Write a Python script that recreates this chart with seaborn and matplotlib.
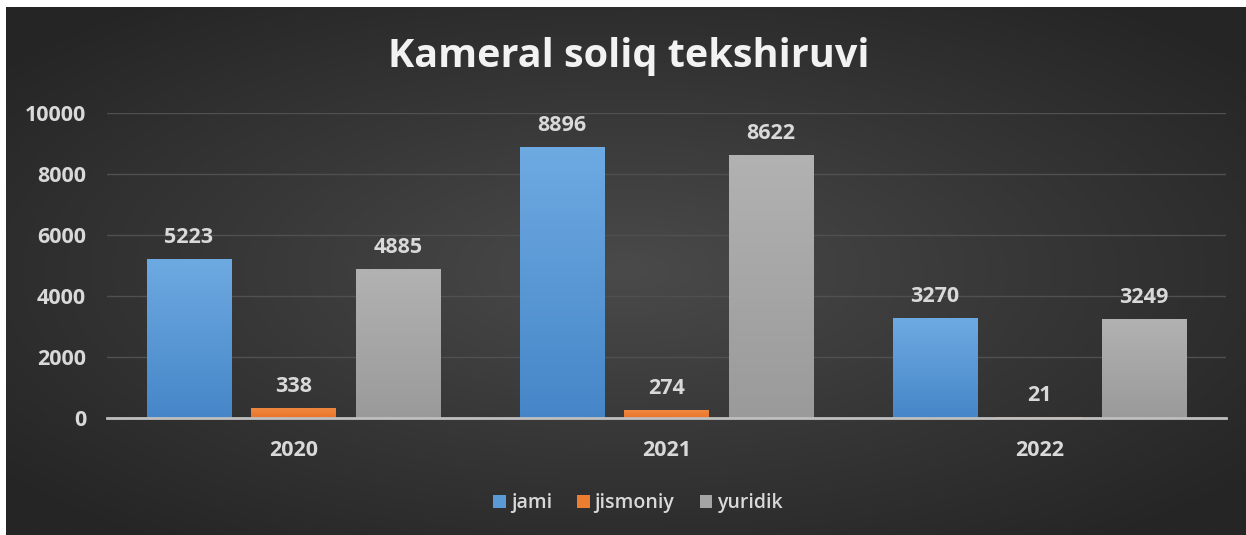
import numpy as np
import pandas as pd
import matplotlib
matplotlib.use("Agg")
import matplotlib.pyplot as plt
import seaborn as sns
from matplotlib.colors import LinearSegmentedColormap
from matplotlib.patches import Patch

years = ["2020", "2021", "2022"]
series = ["jami", "jismoniy", "yuridik"]
jami = [5223, 8896, 3270]
jismoniy = [338, 274, 21]
yuridik = [4885, 8622, 3249]
title = "Kameral soliq tekshiruvi"
yticks = [0, 2000, 4000, 6000, 8000, 10000]

colors = {"jami": "#5b9bd5", "jismoniy": "#ed7d31", "yuridik": "#a5a5a5"}
grad = {"jami": ("#6eaae2", "#4686c8"), "jismoniy": ("#f08a40", "#e8742a"),
        "yuridik": ("#b2b2b2", "#9a9a9a")}

df = pd.DataFrame({
    "year": years * 3,
    "series": [s for s in series for _ in years],
    "value": jami + jismoniy + yuridik,
})

sns.set_theme(style="dark")
plt.rcParams["font.family"] = ["Open Sans", "DejaVu Sans"]
txt = "#d9d9d9"

W, H = 1246, 535
fig = plt.figure(figsize=(W / 100, H / 100), dpi=100, facecolor="white")

# background with radial gradient
bg = fig.add_axes([6 / W, 0, 1 - 6 / W, (H - 7) / H])
bg.set_axis_off()
yy, xx = np.mgrid[-1:1:300j, -1:1:600j]
r = np.sqrt(xx ** 2 + yy ** 2)
r = np.clip(r / 1.3, 0, 1)
cmap_bg = LinearSegmentedColormap.from_list("bg", ["#4a4a4a", "#373737", "#252525"])
bg.imshow(r, cmap=cmap_bg, aspect="auto", extent=[0, 1, 0, 1], vmin=0, vmax=1)
bg.set_xlim(0, 1)
bg.set_ylim(0, 1)

ax = fig.add_axes([107 / W, (H - 418) / H, (1226 - 107) / W, (418 - 113) / H])
ax.set_facecolor("none")
sns.barplot(data=df, x="year", y="value", hue="series", hue_order=series,
            order=years, palette=colors, width=0.84, gap=0.19, ax=ax,
            saturation=1, legend=False, edgecolor="none", linewidth=0)

# gradient fills on bars
for container, s in zip(ax.containers, series):
    cm = LinearSegmentedColormap.from_list(s, [grad[s][1], grad[s][0]])
    for bar in container:
        x0, y0 = bar.get_x(), bar.get_y()
        w, h = bar.get_width(), bar.get_height()
        if h <= 0:
            continue
        g = np.linspace(0, 1, 256).reshape(-1, 1)
        im = ax.imshow(g, cmap=cm, aspect="auto", origin="lower",
                       extent=[x0, x0 + w, y0, y0 + h], zorder=bar.get_zorder())
        im.set_clip_path(bar)
    ax.bar_label(container, labels=[f"{int(round(v.get_height()))}" for v in container],
                 padding=8, color=txt, fontsize=15.5, fontweight="bold")

ax.set_xlim(-0.5, 2.5)
ax.set_ylim(0, 10000)
ax.set_yticks(yticks)
ax.set_yticklabels([str(t) for t in yticks])
ax.grid(axis="y", color="#505050", linewidth=1)
ax.grid(axis="x", visible=False)
ax.set_axisbelow(True)
for sp in ["top", "right", "left"]:
    ax.spines[sp].set_visible(False)
ax.spines["bottom"].set_color("#bfbfbf")
ax.spines["bottom"].set_linewidth(2)
ax.tick_params(axis="y", length=0, pad=15, labelcolor=txt, labelsize=15.5)
ax.tick_params(axis="x", length=0, pad=16, labelcolor=txt, labelsize=15.5)
for lab in ax.get_xticklabels() + ax.get_yticklabels():
    lab.set_fontweight("bold")
ax.set_xlabel("")
ax.set_ylabel("")

fig.text(629 / W, 1 - 57 / H, title, ha="center", va="center", color="#f2f2f2",
         fontsize=28.5, fontweight="bold")

handles = [Patch(facecolor=colors[s], edgecolor="none") for s in series]
leg = fig.legend(handles, series, loc="center", bbox_to_anchor=(638 / W, 1 - 503 / H),
                 ncol=3, frameon=False, fontsize=14, handlelength=0.65, handleheight=0.65,
                 handletextpad=0.25, columnspacing=1.3)
for t in leg.get_texts():
    t.set_color(txt)
    t.set_fontweight("semibold")

fig.text(0.998, 1 + 4 / H, "3-rasm", ha="right", va="center", fontsize=14,
         fontweight="bold", color="black", family="Liberation Serif")

fig.savefig("out.png", dpi=100, facecolor="white")
